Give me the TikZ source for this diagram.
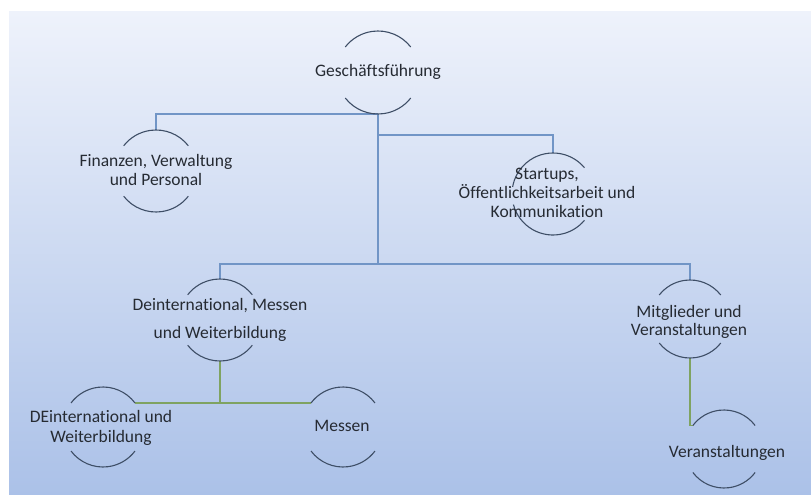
\documentclass[tikz,border=0pt]{standalone}
\usepackage{fontspec}
\setmainfont[Ligatures={NoCommon}]{Carlito}
\definecolor{bgtop}{HTML}{EEF2FB}
\definecolor{bgbot}{HTML}{ABC1E8}
\definecolor{arcc}{HTML}{3E4E66}
\definecolor{bluel}{HTML}{7195C6}
\definecolor{greenl}{HTML}{7FA361}
\definecolor{txt}{HTML}{262B33}
\begin{document}
\begin{tikzpicture}[x=1pt,y=-1pt,
  ring/.style={circle,minimum size=#1,inner sep=0pt,outer sep=0pt},
  lbl/.style={align=center,text=txt,inner sep=0pt,font=\fontsize{17.5}{#1}\selectfont},
  lbl/.default=19,
  arcln/.style={draw=arcc,line width=1.1pt},
  bline/.style={draw=bluel,line width=1.3pt},
  gline/.style={draw=greenl,line width=1.6pt}]
\useasboundingbox (0,0) rectangle (811,495);
\fill[white] (0,0) rectangle (811,495);
\shade[top color=bgtop,bottom color=bgbot] (9,12) rectangle (811,495);
% ring nodes
\node[ring=83pt] (g) at (378,72.5) {};
\node[ring=82pt] (fin) at (156,171) {};
\node[ring=82pt] (st) at (553,194) {};
\node[ring=82pt] (de) at (220,320) {};
\node[ring=78pt] (mi) at (690,319) {};
\node[ring=80pt] (dw) at (103,427) {};
\node[ring=80pt] (me) at (343,427) {};
\node[ring=78pt] (va) at (724,449) {};
% connectors
\coordinate (h1) at (378,135);
\coordinate (h2) at (378,264);
\draw[bline] (g.south) -| (fin.north);
\draw[bline] (g.south) -- (h2);
\draw[bline] (h1) -| (st.north);
\draw[bline] (h2) -| (de.north);
\draw[bline] (h2) -| (mi.north);
\draw[gline] (de.south) -- (de.south |- dw.37);
\draw[gline] (dw.37) -- (me.143);
\draw[gline] (mi.south) |- (va.143);
% arcs
\draw[arcln] (g.38) arc[start angle=38,end angle=142,radius=41.5pt];
\draw[arcln] (g.218) arc[start angle=218,end angle=322,radius=41.5pt];
\draw[arcln] (fin.38) arc[start angle=38,end angle=142,radius=41pt];
\draw[arcln] (fin.218) arc[start angle=218,end angle=322,radius=41pt];
\draw[arcln] (st.40) arc[start angle=40,end angle=170,radius=41pt];
\draw[arcln] (st.195) arc[start angle=195,end angle=320,radius=41pt];
\draw[arcln] (de.38) arc[start angle=38,end angle=142,radius=41pt];
\draw[arcln] (de.218) arc[start angle=218,end angle=322,radius=41pt];
\draw[arcln] (mi.38) arc[start angle=38,end angle=142,radius=39pt];
\draw[arcln] (mi.218) arc[start angle=218,end angle=322,radius=39pt];
\draw[arcln] (dw.37) arc[start angle=37,end angle=143,radius=40pt];
\draw[arcln] (dw.217) arc[start angle=217,end angle=323,radius=40pt];
\draw[arcln] (me.37) arc[start angle=37,end angle=143,radius=40pt];
\draw[arcln] (me.217) arc[start angle=217,end angle=323,radius=40pt];
\draw[arcln] (va.37) arc[start angle=37,end angle=143,radius=39pt];
\draw[arcln] (va.217) arc[start angle=217,end angle=323,radius=39pt];
% labels
\node[lbl] (gt) at (378,72) {Geschäftsführung};
\node[lbl] (fint) at (156,170) {Finanzen, Verwaltung\\und Personal};
\node[lbl] (stt) at (547,193) {Startups,\\Öffentlichkeitsarbeit und\\Kommunikation};
\node[lbl=28] (det) at (220,320) {Deinternational, Messen\\und Weiterbildung};
\node[lbl=18] (mit) at (689,322) {Mitglieder und\\Veranstaltungen};
\node[lbl=20] (dwt) at (101,428) {DEinternational und\\Weiterbildung};
\node[lbl] (met) at (342,426) {Messen};
\node[lbl] (vat) at (727,453) {Veranstaltungen};
\end{tikzpicture}
\end{document}
